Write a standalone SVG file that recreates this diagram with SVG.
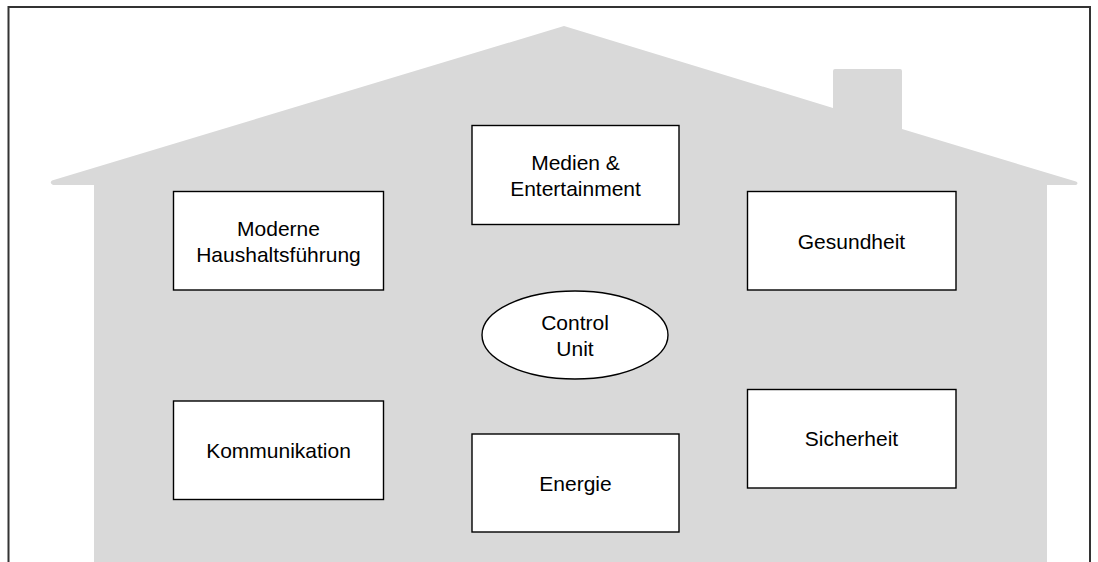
<svg xmlns="http://www.w3.org/2000/svg" width="1098" height="562" viewBox="0 0 1098 562">
<style>
.box{fill:#fff;stroke:#000;stroke-width:1.4}
.t{font-family:"Liberation Sans",Arial,sans-serif;font-size:21px;fill:#000;text-anchor:middle}
</style>
<rect x="0" y="0" width="1098" height="562" fill="#fff"/>
<path d="M8.5,562 V7 H1090 V562" fill="none" stroke="#333" stroke-width="2"/>
<g id="house">
<path d="M52,180.5 L564,26 L833,108 L833,71 Q833,69 835,69 L900,69 Q902,69 902,71 L902,129 L1076,181.5 Q1079,183 1076,185 L1047,185 L1047,562 L94,562 L94,185 L53,185 Q49,183 52,180.5 Z" fill="#d9d9d9"/>
</g>
<g id="connectors"></g>
<g id="node-haushalt">
<rect class="box" x="173.5" y="191.5" width="210" height="98.5"/>
<text class="t" x="278.5" y="235.5">Moderne</text>
<text class="t" x="278.5" y="261.5">Haushaltsführung</text>
</g>
<g id="node-medien">
<rect class="box" x="472" y="125.5" width="207" height="99"/>
<text class="t" x="575.5" y="170">Medien &amp;</text>
<text class="t" x="575.5" y="196">Entertainment</text>
</g>
<g id="node-gesundheit">
<rect class="box" x="747.5" y="191.5" width="208.5" height="98.5"/>
<text class="t" x="851.5" y="249">Gesundheit</text>
</g>
<g id="node-control">
<ellipse class="box" cx="575" cy="335" rx="93" ry="44"/>
<text class="t" x="575" y="330">Control</text>
<text class="t" x="575" y="356">Unit</text>
</g>
<g id="node-kommunikation">
<rect class="box" x="173.5" y="401" width="210" height="98.5"/>
<text class="t" x="278.5" y="457.5">Kommunikation</text>
</g>
<g id="node-energie">
<rect class="box" x="472" y="434" width="207" height="98"/>
<text class="t" x="575.5" y="490.5">Energie</text>
</g>
<g id="node-sicherheit">
<rect class="box" x="747.5" y="389.5" width="208.5" height="98.5"/>
<text class="t" x="851.5" y="446">Sicherheit</text>
</g>
</svg>
